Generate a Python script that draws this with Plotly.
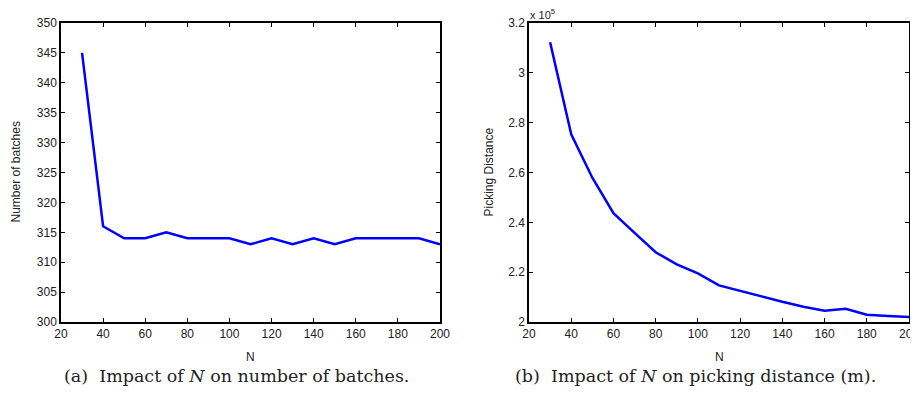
import plotly.graph_objects as go

N_vals = [30, 40, 50, 60, 70, 80, 90, 100, 110, 120, 130, 140, 150, 160, 170, 180, 190, 200]
batches = [345, 316, 314, 314, 315, 314, 314, 314, 313, 314, 313, 314, 313, 314, 314, 314, 314, 313]
distance = [312300, 275300, 257900, 243700, 235800, 228000, 223100, 219500, 214700, 212400,
            210100, 208100, 206100, 204500, 205300, 202900, 202400, 202000]

x_ticks = [20, 40, 60, 80, 100, 120, 140, 160, 180, 200]
y1_ticks = [300, 305, 310, 315, 320, 325, 330, 335, 340, 345, 350]
y2_ticks = [200000, 220000, 240000, 260000, 280000, 300000, 320000]
y2_labels = ["2", "2.2", "2.4", "2.6", "2.8", "3", "3.2"]

# page body has an 8px default margin: work in page coords minus 8,
# and keep the page from scrolling vertically
OFF = 8
W, H = 918 - OFF, 397 - 2 * OFF


def px(x):
    return (x - OFF) / W


def py(y):
    return 1 - (y - OFF) / H


fig = go.Figure()
fig.add_trace(go.Scatter(x=N_vals, y=batches, mode="lines", line=dict(color="#0000ff", width=2.5),
                         xaxis="x", yaxis="y", showlegend=False))
fig.add_trace(go.Scatter(x=N_vals, y=distance, mode="lines", line=dict(color="#0000ff", width=2.5),
                         xaxis="x2", yaxis="y2", showlegend=False))

SANS = "Liberation Sans, Arial, sans-serif"
SERIF = "DejaVu Serif, Liberation Serif, serif"
tickfont = dict(family=SANS, size=12, color="#222")
ax_common = dict(showgrid=False, zeroline=False, ticks="inside", ticklen=4, tickwidth=1,
                 tickcolor="black", showline=True, linecolor="black", linewidth=1.5,
                 mirror="ticks", tickfont=tickfont, automargin=False, ticklabeloverflow="allow")

ytop = py(23)
ybot = py(322)
titlefont = dict(family=SANS, size=12, color="#222")
fig.update_layout(
    width=W, height=H, margin=dict(l=0, r=0, t=0, b=0),
    paper_bgcolor="white", plot_bgcolor="white",
    xaxis=dict(domain=[px(61), px(440)], range=[20, 200], tickvals=x_ticks, anchor="y", **ax_common),
    yaxis=dict(domain=[ybot, ytop], range=[300, 350], tickvals=y1_ticks, anchor="x", **ax_common),
    xaxis2=dict(domain=[px(529), px(909)], range=[20, 200], tickvals=x_ticks, anchor="y2", **ax_common),
    yaxis2=dict(domain=[ybot, ytop], range=[200000, 320000], tickvals=y2_ticks, ticktext=y2_labels,
                anchor="x2", **ax_common),
    annotations=[
        dict(text="N", x=px(250), y=py(357), xref="paper", yref="paper",
             xanchor="center", yanchor="middle", showarrow=False, font=titlefont),
        dict(text="N", x=px(719), y=py(357), xref="paper", yref="paper",
             xanchor="center", yanchor="middle", showarrow=False, font=titlefont),
        dict(text="Number of batches", x=px(15), y=(ytop + ybot) / 2, xref="paper", yref="paper",
             xanchor="center", yanchor="middle", textangle=-90, showarrow=False, font=titlefont),
        dict(text="Picking Distance", x=px(488), y=(ytop + ybot) / 2, xref="paper", yref="paper",
             xanchor="center", yanchor="middle", textangle=-90, showarrow=False, font=titlefont),
        dict(text="x 10<sup>5</sup>", x=px(528), y=py(14), xref="paper", yref="paper",
             xanchor="left", yanchor="middle", showarrow=False,
             font=dict(family=SANS, size=11, color="#222")),
        dict(text="(a)  Impact of <i>N</i> on number of batches.", x=px(236), y=py(376),
             xref="paper", yref="paper", xanchor="center", yanchor="middle", showarrow=False,
             font=dict(family=SERIF, size=17.5, color="#222")),
        dict(text="(b)  Impact of <i>N</i> on picking distance (m).", x=px(695), y=py(376),
             xref="paper", yref="paper", xanchor="center", yanchor="middle", showarrow=False,
             font=dict(family=SERIF, size=17.5, color="#222")),
    ],
)

fig.write_html("out.html")
